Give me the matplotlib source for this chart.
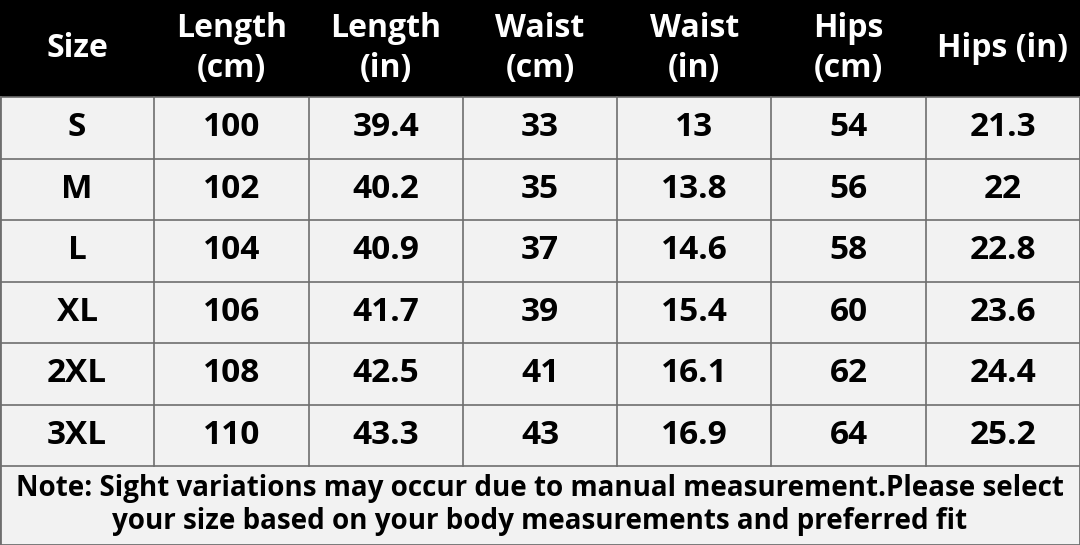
import matplotlib
matplotlib.use("Agg")
import matplotlib.pyplot as plt
from matplotlib.patches import Rectangle

headers = ["Size", "Length\n(cm)", "Length\n(in)", "Waist\n(cm)", "Waist\n(in)", "Hips\n(cm)", "Hips (in)"]
sizes = ["S", "M", "L", "XL", "2XL", "3XL"]
length_cm = ["100", "102", "104", "106", "108", "110"]
length_in = ["39.4", "40.2", "40.9", "41.7", "42.5", "43.3"]
waist_cm = ["33", "35", "37", "39", "41", "43"]
waist_in = ["13", "13.8", "14.6", "15.4", "16.1", "16.9"]
hips_cm = ["54", "56", "58", "60", "62", "64"]
hips_in = ["21.3", "22", "22.8", "23.6", "24.4", "25.2"]
note = "Note: Sight variations may occur due to manual measurement.Please select\nyour size based on your body measurements and preferred fit"

plt.rcParams['font.family'] = ['Open Sans', 'DejaVu Sans']
fig = plt.figure(figsize=(10.8, 5.45), dpi=100)
ax = fig.add_axes([0, 0, 1, 1])
ax.set_xlim(0, 1080); ax.set_ylim(545, 0); ax.axis('off')

ncol = 7
colw = 1080 / ncol
header_h = 97
row_h = (466 - 97) / 6
bg = "#f2f2f2"
line = "#6e6e6e"

ax.add_patch(Rectangle((0, header_h), 1080, 545 - header_h, facecolor=bg, edgecolor='none'))
ax.add_patch(Rectangle((0, 0), 1080, header_h, facecolor='black', edgecolor='none'))

for j, h in enumerate(headers):
    ax.text(colw * (j + 0.5), header_h / 2, h, ha='center', va='center', color='white',
            fontsize=23, fontweight='bold', linespacing=1.25)

cols = [sizes, length_cm, length_in, waist_cm, waist_in, hips_cm, hips_in]
for i in range(6):
    y = header_h + row_h * (i + 0.5)
    for j, c in enumerate(cols):
        ax.text(colw * (j + 0.5), y, c[i], ha='center', va='center', color='black',
                fontsize=24, fontweight='bold')

for i in range(7):
    y = header_h + row_h * i
    ax.plot([0, 1080], [y, y], color=line, lw=1.2)
for j in range(1, ncol):
    ax.plot([colw * j, colw * j], [header_h, 466], color=line, lw=1.2)
ax.plot([0, 0], [header_h, 545], color=line, lw=2)
ax.plot([1080, 1080], [header_h, 545], color=line, lw=2)
ax.plot([0, 1080], [545, 545], color=line, lw=2)

ax.text(540, 505, note, ha='center', va='center', fontsize=20, fontweight='bold',
        color='black', linespacing=1.15)

fig.savefig("out.png", dpi=100)
